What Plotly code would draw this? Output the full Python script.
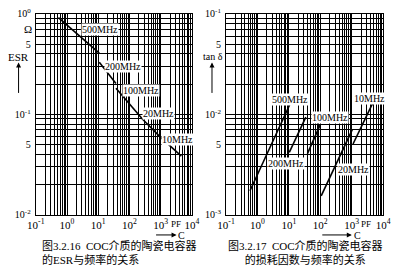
import math
import plotly.graph_objects as go

# ---------------- data ----------------
# Left chart: ESR (ohm) vs capacitance C (pF), segments per frequency
esr_freqs = ["500MHz", "200MHz", "100MHz", "20MHz", "10MHz"]
esr_c = [[0.53, 10.8], [10.8, 36.9], [37.0, 273], [273, 1000], [1000, 4600]]
esr_val = [[0.92, 0.407], [0.33, 0.203], [0.182, 0.0883], [0.0883, 0.059], [0.059, 0.0384]]
esr_lbl_c = [11.4, 61.5, 237, 843, 3470]
esr_lbl_v = [0.693, 0.301, 0.174, 0.103, 0.0557]

# Right chart: tan delta vs capacitance C (pF)
tan_freqs = ["500MHz", "200MHz", "100MHz", "20MHz", "10MHz"]
tan_c = [[0.578, 10.7], [10.3, 34.7], [39, 99.3], [107, 1043], [1104, 4720]]
tan_val = [[0.00173, 0.01254], [0.00418, 0.00936], [0.00406, 0.00785], [0.00154, 0.00703], [0.00506, 0.01302]]
tan_lbl_c = [10.5, 7.9, 200, 1160, 3560]
tan_lbl_v = [0.0139, 0.00326, 0.00936, 0.00279, 0.01452]

x_tickvals = [0.1, 1, 10, 100, 1000, 10000]
x_ticktext = ["10<sup>-1</sup>", "10<sup>0</sup>", "10<sup>1</sup>", "10<sup>2</sup>", "10<sup>3</sup>", "10<sup>4</sup>"]
esr_tickvals = [1, 0.5, 0.1, 0.05, 0.01]
esr_ticktext = ["10<sup>0</sup>", "5", "10<sup>-1</sup>", "5", "10<sup>-2</sup>"]
tan_tickvals = [0.1, 0.05, 0.01, 0.005, 0.001]
tan_ticktext = ["10<sup>-1</sup>", "5", "10<sup>-2</sup>", "5", "10<sup>-3</sup>"]

caption_left = ["图3.2.16  COC介质的陶瓷电容器", "的ESR与频率的关系"]
caption_right = ["图3.2.17  COC介质的陶瓷电容器", "的损耗因数与频率的关系"]

# ---------------- figure ----------------
W, H = 400, 271
FONT = "Liberation Serif, Times New Roman, Noto Sans CJK SC, serif"

def decade_minors(lo, hi):
    vals = []
    for e in range(lo, hi):
        for d in range(2, 10):
            vals.append(d * 10 ** e)
    return vals

fig = go.Figure()

for segx, segy in zip(esr_c, esr_val):
    fig.add_trace(go.Scatter(x=segx, y=segy, mode="lines", line=dict(color="black", width=1.6),
                             xaxis="x", yaxis="y", showlegend=False, hoverinfo="skip"))
for segx, segy in zip(tan_c, tan_val):
    fig.add_trace(go.Scatter(x=segx, y=segy, mode="lines", line=dict(color="black", width=1.6),
                             xaxis="x2", yaxis="y2", showlegend=False, hoverinfo="skip"))

def px(x):
    return x / W

def py(y):
    return 1 - y / H

ydom = [py(217.3), py(7.3)]

GW = 1.2
axis_common = dict(type="log", showline=True, linecolor="black", linewidth=1.3, mirror=True,
                   showgrid=True, gridcolor="black", gridwidth=GW, ticks="", zeroline=False,
                   tickfont=dict(family=FONT, size=11, color="black"), fixedrange=True)
ytickfont = dict(family=FONT, size=10, color="black")

def minor(lo, hi):
    return dict(tickmode="array", tickvals=decade_minors(lo, hi), showgrid=True,
                gridcolor="black", gridwidth=GW, ticks="")

fig.update_layout(
    width=W, height=H, margin=dict(l=0, r=0, t=0, b=0),
    paper_bgcolor="white", plot_bgcolor="white",
    font=dict(family=FONT, color="black"),
    xaxis=dict(axis_common, domain=[px(28), px(191)], range=[-1, 4], anchor="y",
               tickmode="array", tickvals=x_tickvals, ticktext=x_ticktext, minor=minor(-1, 4)),
    yaxis=dict(axis_common, domain=ydom, range=[-2, 0], anchor="x", tickfont=ytickfont,
               tickmode="array", tickvals=esr_tickvals, ticktext=esr_ticktext, ticklabelstandoff=2,
               minor=minor(-2, 0)),
    xaxis2=dict(axis_common, domain=[px(226.7), px(390.7)], range=[-1, 4], anchor="y2",
                tickmode="array", tickvals=x_tickvals, ticktext=x_ticktext, minor=minor(-1, 4)),
    yaxis2=dict(axis_common, domain=ydom, range=[-3, -1], anchor="x2", tickfont=ytickfont,
                tickmode="array", tickvals=tan_tickvals, ticktext=tan_ticktext, ticklabelstandoff=2,
                minor=minor(-3, -1)),
)

ann = []
# frequency labels (annotation coordinates on log axes are given in log10 units)
for t, cx, cy in zip(esr_freqs, esr_lbl_c, esr_lbl_v):
    ann.append(dict(x=math.log10(cx), y=math.log10(cy), xref="x", yref="y", text=t, showarrow=False,
                    bgcolor="white", borderpad=0, font=dict(family=FONT, size=10, color="black")))
for t, cx, cy in zip(tan_freqs, tan_lbl_c, tan_lbl_v):
    ann.append(dict(x=math.log10(cx), y=math.log10(cy), xref="x2", yref="y2", text=t, showarrow=False,
                    bgcolor="white", borderpad=0, font=dict(family=FONT, size=10, color="black")))

def ptext(x, y, text, size=10, xanchor="center", align="center"):
    ann.append(dict(x=px(x), y=py(y), xref="paper", yref="paper", text=text, showarrow=False,
                    xanchor=xanchor, yanchor="middle", align=align,
                    font=dict(family=FONT, size=size, color="black")))

def parrow(x0, y0, x1, y1):
    ann.append(dict(x=px(x1), y=py(y1), xref="paper", yref="paper", ax=x0 - x1, ay=y0 - y1,
                    axref="pixel", ayref="pixel", text="", showarrow=True, arrowhead=2,
                    arrowsize=1, arrowwidth=1, arrowcolor="black"))

# left y-axis extras
ptext(20, 23, "Ω", 11)
ptext(10, 52, "ESR", 11)
parrow(10, 90, 10, 58)
# right y-axis extras
ptext(213, 52, "tan δ", 10)
parrow(212, 90, 212, 58)
# x-axis unit and arrows
ptext(174.5, 227, "PF", 9)
ptext(373, 227, "PF", 9)
parrow(153, 238.5, 175, 238.5)
ptext(180.5, 239, "C", 10)
parrow(327, 238.5, 358, 238.5)
ptext(364, 239, "C", 10)
# captions (two lines each)
ptext(32, 256.5, "<br>".join(caption_left), 11, "left", "left")
ptext(309.5, 256.5, "<br>".join(caption_right), 11, "center", "center")

fig.update_layout(annotations=ann)
fig.write_html("out.html")
